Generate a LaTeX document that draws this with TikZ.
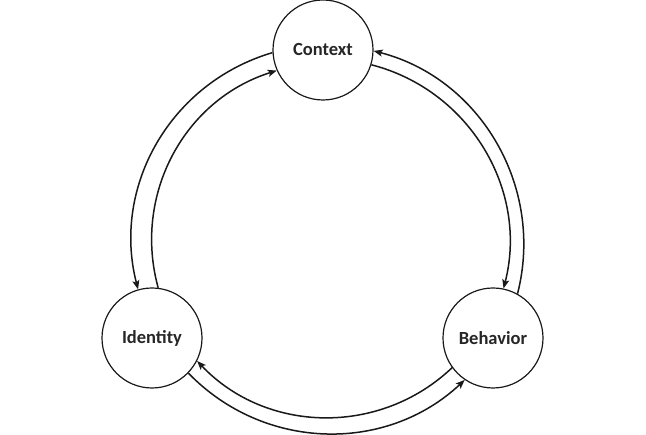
\documentclass[tikz,border=0pt]{standalone}
\usepackage{fontspec}
\setmainfont{Carlito}
\usetikzlibrary{arrows.meta}
\begin{document}
\begin{tikzpicture}[x=1pt,y=-1pt,
  stage/.style={draw=black!90,line width=1.2pt,circle,minimum size=100pt,inner sep=0pt,
    font=\fontsize{18.5}{22}\selectfont\bfseries,text=black!85},
  flow/.style={draw=black!90,line width=1.5pt,-{Stealth[length=9pt,width=7pt,inset=2pt]}}]
\useasboundingbox (0,0) rectangle (646,435);
\node[stage] (ctx) at (323,50) {Context};
\node[stage] (idn) at (152,338) {Identity};
\node[stage] (beh) at (493,338) {Behavior};
% left pair
\draw[flow] (ctx.183) to[bend right=44] (idn.106);
\draw[flow] (idn.83) to[bend left=44] (ctx.204);
% right pair
\draw[flow] (beh.61) to[bend right=45] (ctx.-1);
\draw[flow] (ctx.-17) to[bend left=45] (beh.78);
% bottom pair
\draw[flow] (beh.216) to[bend left=45] (idn.-27);
\draw[flow] (idn.-44) to[bend right=44.5] (beh.236);
\end{tikzpicture}
\end{document}
